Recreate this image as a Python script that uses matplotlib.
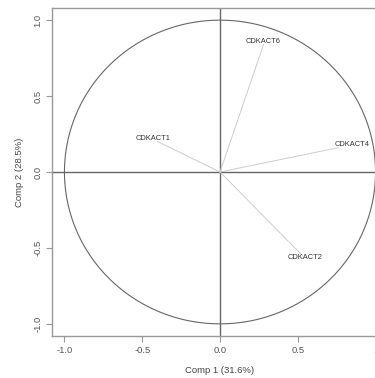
import numpy as np
import matplotlib.pyplot as plt

# variable loadings on the first two components
variables = ["CDKACT1", "CDKACT6", "CDKACT4", "CDKACT2"]
comp1 = [-0.40, 0.28, 0.76, 0.53]
comp2 = [0.20, 0.84, 0.16, -0.55]

# label anchor points
label_x = [-0.43, 0.28, 0.85, 0.55]
label_y = [0.22, 0.86, 0.18, -0.56]

xticks = [-1.0, -0.5, 0.0, 0.5, 1.0]
yticks = [-1.0, -0.5, 0.0, 0.5, 1.0]

plt.rcParams['font.family'] = ['Liberation Sans', 'DejaVu Sans']

fig = plt.figure(figsize=(3.75, 3.78), dpi=100)
ax = fig.add_axes([52 / 375, 42 / 378, 336 / 375, 328 / 378])

# unit circle
t = np.linspace(0, 2 * np.pi, 400)
ax.plot(np.cos(t), np.sin(t), color='#666666', lw=0.8)

# axes through origin
ax.axhline(0, color='#666666', lw=1.0)
ax.axvline(0, color='#666666', lw=1.0)

# loading vectors
for x, y in zip(comp1, comp2):
    ax.plot([0, x], [0, y], color='#cccccc', lw=0.7)

for name, x, y in zip(variables, label_x, label_y):
    ax.text(x, y, name, ha='center', va='center', fontsize=5.4, color='#333333')

ax.set_xlim(-1.08, 1.08)
ax.set_ylim(-1.08, 1.08)
ax.set_xticks(xticks)
ax.set_yticks(yticks)
ax.set_xticklabels([f"{v:.1f}" if v != 1.0 else "1" for v in xticks])
ax.set_yticklabels([f"{v:.1f}" for v in yticks], rotation=90, va='center')
ax.tick_params(direction='out', length=4, width=0.8, color='#999999',
               labelsize=6.8, labelcolor='#555555', pad=3)
for s in ax.spines.values():
    s.set_color('#999999')
    s.set_linewidth(1.0)

ax.set_xlabel("Comp 1 (31.6%)", fontsize=6.8, color='#444444', labelpad=8)
ax.set_ylabel("Comp 2 (28.5%)", fontsize=6.8, color='#444444', labelpad=7)

fig.savefig("out.png", dpi=100)
